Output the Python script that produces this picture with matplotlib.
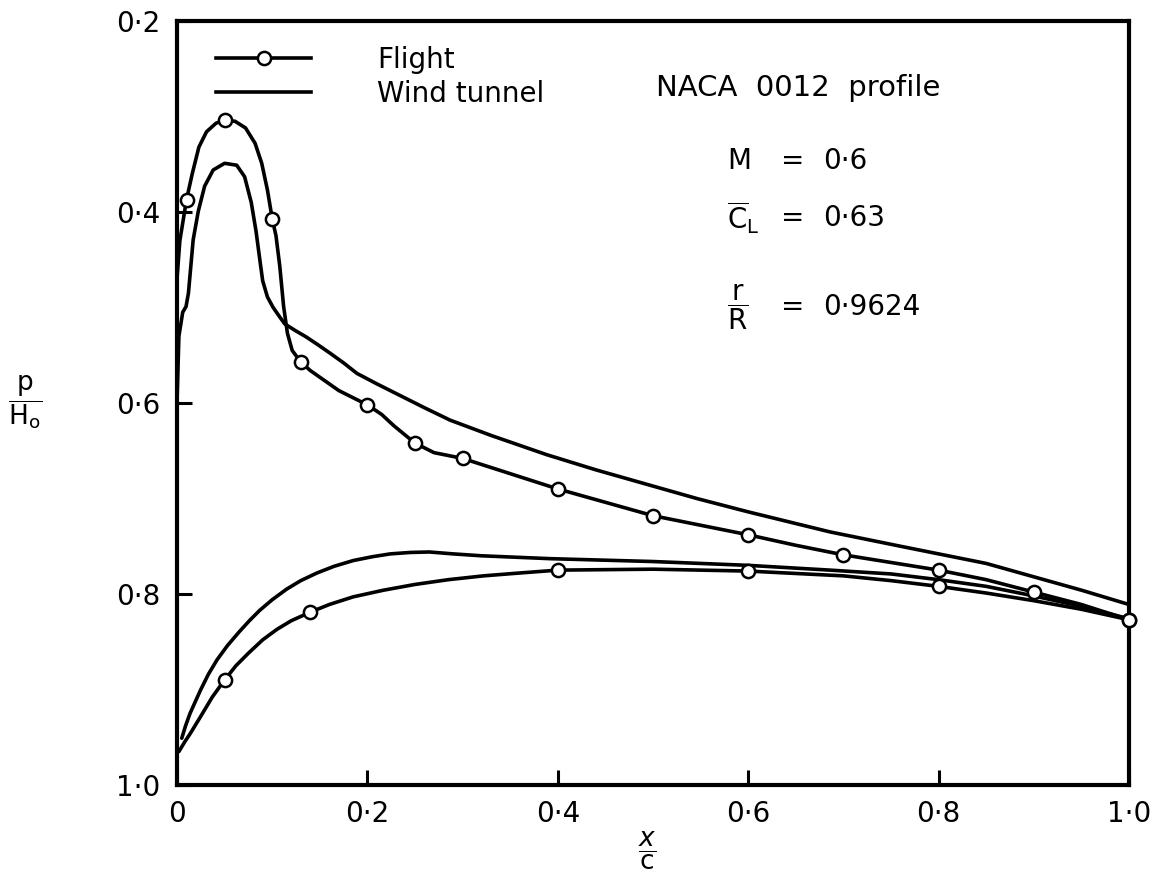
import numpy as np
import matplotlib
matplotlib.use('Agg')
import matplotlib.pyplot as plt

plt.rcParams['font.family'] = ['DejaVu Sans']
plt.rcParams['mathtext.fontset'] = 'dejavusans'

# --- flight measurements (orifice positions) ---
flight_upper_x = [0.01, 0.05, 0.10, 0.13, 0.20, 0.25, 0.30, 0.40, 0.50, 0.60, 0.70, 0.80, 0.90, 1.00]
flight_upper_p = [0.387, 0.304, 0.407, 0.557, 0.602, 0.642, 0.658, 0.690, 0.718, 0.738, 0.759, 0.775, 0.798, 0.827]
flight_lower_x = [0.05, 0.14, 0.40, 0.60, 0.80, 1.00]
flight_lower_p = [0.890, 0.819, 0.775, 0.776, 0.792, 0.827]

# --- faired curves through the flight points ---
fair_upper_x = [0.0, 0.003, 0.01, 0.016, 0.023, 0.031, 0.041, 0.05, 0.061, 0.072, 0.082, 0.089,
                0.095, 0.10, 0.104, 0.108, 0.112, 0.116, 0.121, 0.13, 0.14, 0.15, 0.17, 0.20,
                0.215, 0.228, 0.25, 0.27, 0.30, 0.35, 0.40, 0.45, 0.50, 0.55, 0.60, 0.65,
                0.70, 0.75, 0.80, 0.85, 0.90, 0.95, 1.00]
fair_upper_p = [0.47, 0.43, 0.387, 0.360, 0.332, 0.316, 0.307, 0.304, 0.305, 0.312, 0.328, 0.349,
                0.377, 0.407, 0.425, 0.457, 0.499, 0.527, 0.545, 0.557, 0.566, 0.573, 0.587, 0.602,
                0.612, 0.624, 0.642, 0.652, 0.658, 0.674, 0.690, 0.704, 0.718, 0.728, 0.738, 0.749,
                0.759, 0.767, 0.775, 0.785, 0.798, 0.811, 0.827]
fair_lower_x = [0.002, 0.008, 0.014, 0.025, 0.037, 0.05, 0.062, 0.075, 0.09, 0.105, 0.12, 0.14,
                0.16, 0.185, 0.217, 0.25, 0.285, 0.322, 0.36, 0.40, 0.50, 0.60, 0.70, 0.75,
                0.80, 0.85, 0.90, 0.95, 1.00]
fair_lower_p = [0.965, 0.955, 0.946, 0.928, 0.908, 0.890, 0.875, 0.862, 0.848, 0.837, 0.828, 0.819,
                0.811, 0.803, 0.796, 0.790, 0.785, 0.781, 0.778, 0.775, 0.774, 0.776, 0.781, 0.786,
                0.792, 0.799, 0.807, 0.816, 0.827]

# --- wind tunnel curves ---
wt_upper_x = [0.0, 0.002, 0.006, 0.0095, 0.012, 0.0145, 0.017, 0.0224, 0.029, 0.038, 0.050, 0.0627,
              0.071, 0.078, 0.083, 0.087, 0.090, 0.095, 0.101, 0.108, 0.113, 0.124, 0.136, 0.148,
              0.161, 0.175, 0.189, 0.21, 0.234, 0.26, 0.287, 0.33, 0.388, 0.44, 0.50, 0.546,
              0.60, 0.686, 0.76, 0.80, 0.85, 0.90, 0.95, 1.00]
wt_upper_p = [0.60, 0.53, 0.505, 0.499, 0.485, 0.457, 0.429, 0.399, 0.373, 0.356, 0.349, 0.351,
              0.363, 0.390, 0.420, 0.450, 0.472, 0.489, 0.500, 0.510, 0.517, 0.524, 0.531, 0.539,
              0.548, 0.558, 0.569, 0.580, 0.592, 0.605, 0.618, 0.634, 0.654, 0.670, 0.687, 0.700,
              0.714, 0.735, 0.750, 0.758, 0.768, 0.782, 0.796, 0.811]
wt_lower_x = [0.005, 0.009, 0.0137, 0.02, 0.025, 0.033, 0.042, 0.053, 0.065, 0.076, 0.087, 0.10,
              0.115, 0.13, 0.147, 0.165, 0.185, 0.205, 0.224, 0.245, 0.265, 0.29, 0.32, 0.392,
              0.50, 0.60, 0.686, 0.75, 0.80, 0.85, 0.90, 0.95, 1.00]
wt_lower_p = [0.951, 0.938, 0.925, 0.911, 0.900, 0.884, 0.869, 0.854, 0.840, 0.828, 0.817, 0.806,
              0.795, 0.786, 0.778, 0.771, 0.765, 0.761, 0.758, 0.7565, 0.756, 0.758, 0.760, 0.763,
              0.766, 0.770, 0.775, 0.779, 0.785, 0.792, 0.802, 0.813, 0.826]

x_ticks = [0.0, 0.2, 0.4, 0.6, 0.8, 1.0]
x_tick_labels = ['0', '0·2', '0·4', '0·6', '0·8', '1·0']
y_ticks = [0.2, 0.4, 0.6, 0.8, 1.0]
y_tick_labels = ['0·2', '0·4', '0·6', '0·8', '1·0']

W, H = 1161, 875
fig = plt.figure(figsize=(W / 100, H / 100), dpi=100)
ax = fig.add_axes([177 / W, 1 - 785 / H, (1129 - 177) / W, (785 - 21) / H])

lw = 2.6
line_kw = dict(color='black', lw=lw, clip_on=False, solid_capstyle='round', solid_joinstyle='round')
ax.plot(wt_upper_x, wt_upper_p, **line_kw)
ax.plot(wt_lower_x, wt_lower_p, **line_kw)
ax.plot(fair_upper_x, fair_upper_p, **line_kw)
ax.plot(fair_lower_x, fair_lower_p, **line_kw)

mk = dict(linestyle='none', marker='o', ms=9.5, mfc='white', mec='black', mew=1.8,
          clip_on=False, zorder=5)
ax.plot(flight_upper_x, flight_upper_p, **mk)
ax.plot(flight_lower_x, flight_lower_p, **mk)

# legend handles only
ax.plot([], [], color='black', lw=lw, marker='o', ms=9.5, mfc='white', mec='black', mew=1.8,
        label='Flight')
ax.plot([], [], color='black', lw=lw, label='Wind tunnel')
ax.legend(loc='upper left', bbox_to_anchor=(0.015, 1.0), frameon=False, fontsize=20,
          handlelength=3.4, handletextpad=2.4, labelspacing=0.2, numpoints=1)

ax.set_xlim(0, 1.0)
ax.set_ylim(1.0, 0.2)
ax.set_xticks(x_ticks)
ax.set_xticklabels(x_tick_labels)
ax.set_yticks(y_ticks)
ax.set_yticklabels(y_tick_labels)
ax.tick_params(direction='in', length=11, width=2.2, labelsize=20)
ax.tick_params(axis='x', pad=11)
ax.tick_params(axis='y', pad=12)
for s in ax.spines.values():
    s.set_linewidth(3)

# annotations
fs = 20
ax.text(0.503, 0.912, 'NACA  0012  profile', transform=ax.transAxes, fontsize=21, va='center')
rows = [(0.817, r'M', '0·6'),
        (0.742, r'$\overline{\mathrm{C}}_{\mathrm{L}}$', '0·63'),
        (0.626, r'$\dfrac{\mathrm{r}}{\mathrm{R}}$', '0·9624')]
for yy, lab, val in rows:
    ax.text(0.578, yy, lab, transform=ax.transAxes, fontsize=fs, va='center')
    ax.text(0.634, yy, '=', transform=ax.transAxes, fontsize=fs, va='center')
    ax.text(0.679, yy, val, transform=ax.transAxes, fontsize=fs, va='center')

fig.text(25 / W, 1 - 402 / H, r'$\dfrac{\mathrm{p}}{\mathrm{H_o}}$', fontsize=19,
         ha='center', va='center')
fig.text(647 / W, 1 - 851 / H, r'$\dfrac{x}{\mathrm{c}}$', fontsize=19,
         ha='center', va='center')

fig.savefig('out.png', dpi=100)
